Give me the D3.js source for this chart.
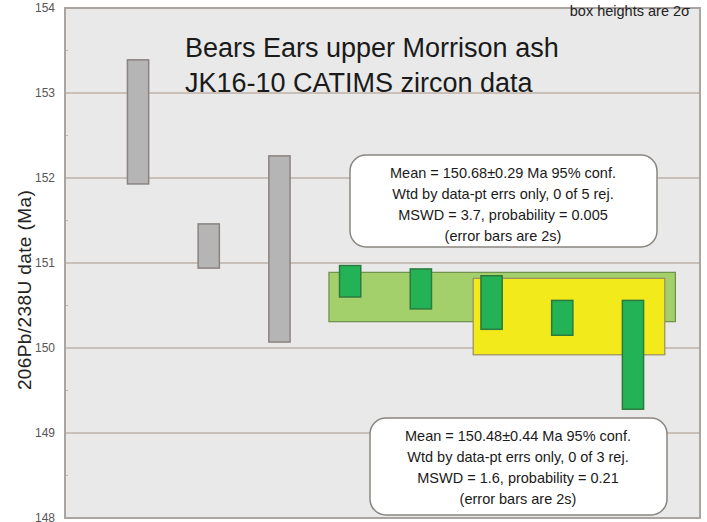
<!DOCTYPE html>
<html>
<head>
<meta charset="utf-8">
<script src="https://cdn.jsdelivr.net/npm/d3@7"></script>
<style>
  body { margin: 0; background: #fff; }
  svg { display: block; font-family: "Liberation Sans", Arial, sans-serif; }
</style>
</head>
<body>
<div id="chart"></div>
<script>
// grain boxes: position index, top and bottom of the 2 sigma box (Ma)
const greyGrains = [
  { pos: 1, hi: 153.39, lo: 151.93 },
  { pos: 2, hi: 151.46, lo: 150.94 },
  { pos: 3, hi: 152.26, lo: 150.07 }
]
const greenGrains = [
  { pos: 4, hi: 150.97, lo: 150.60 },
  { pos: 5, hi: 150.93, lo: 150.46 },
  { pos: 6, hi: 150.85, lo: 150.22 },
  { pos: 7, hi: 150.56, lo: 150.15 },
  { pos: 8, hi: 150.56, lo: 149.28 }
]
// weighted-mean bands
const meanBands = [
  { name: 'all5', x0: 3.70, x1: 8.60, hi: 150.89, lo: 150.31, fill: '#a3d06b', stroke: '#6f8f4c' },
  { name: 'last3', x0: 5.74, x1: 8.45, hi: 150.82, lo: 149.92, fill: '#f3ea1b', stroke: '#9a8c62' }
]
const yTicks = [148, 149, 150, 151, 152, 153, 154]
const yMinorTicks = [148.5, 149.5, 150.5, 151.5, 152.5, 153.5]
const titleLines = ['Bears Ears upper Morrison ash', 'JK16-10 CATIMS zircon data']
const note1 = ['Mean = 150.68\u00b10.29 Ma 95% conf.', 'Wtd by data-pt errs only, 0 of 5 rej.', 'MSWD = 3.7, probability = 0.005', '(error bars are 2s)']
const note2 = ['Mean = 150.48\u00b10.44 Ma 95% conf.', 'Wtd by data-pt errs only, 0 of 3 rej.', 'MSWD = 1.6, probability = 0.21', '(error bars are 2s)']

const width = 707, height = 522
const plot = { left: 65, right: 700, top: 8, bottom: 518 }
const barHalf = 0.15

const svg = d3.select('#chart').append('svg')
    .attr('width', width)
    .attr('height', height)

const x = d3.scaleLinear().domain([-0.033, 8.948]).range([plot.left, plot.right])
const y = d3.scaleLinear().domain([148, 154]).range([plot.bottom, plot.top])

// plot background
svg.append('rect')
    .attr('x', plot.left).attr('y', plot.top)
    .attr('width', plot.right - plot.left).attr('height', plot.bottom - plot.top)
    .style('fill', '#e8e9e8')

// gridlines
svg.selectAll('.grid')
    .data(yTicks.slice(1, -1))
    .enter()
    .append('line')
    .attr('class', 'grid')
    .attr('x1', plot.left).attr('x2', plot.right)
    .attr('y1', d => y(d)).attr('y2', d => y(d))
    .style('stroke', '#bcb0a8')
    .style('stroke-width', 1.5)

// left axis
const yAxis = d3.axisLeft(y).tickValues(yTicks).tickSize(0).tickPadding(10).tickFormat(d3.format('d'))
const ax = svg.append('g')
    .attr('transform', `translate(${plot.left},0)`)
    .call(yAxis)
ax.select('.domain').remove()
ax.selectAll('text')
    .style('font-size', '12px')
    .style('fill', '#555')
    .style('font-family', '"Liberation Sans", Arial, sans-serif')

svg.selectAll('.minor')
    .data(yMinorTicks)
    .enter()
    .append('line')
    .attr('class', 'minor')
    .attr('x1', plot.left).attr('x2', plot.left + 3)
    .attr('y1', d => y(d)).attr('y2', d => y(d))
    .style('stroke', '#bbb')

// frame
svg.append('rect')
    .attr('x', plot.left).attr('y', plot.top)
    .attr('width', plot.right - plot.left).attr('height', plot.bottom - plot.top)
    .style('fill', 'none')
    .style('stroke', '#aaa5a0')
    .style('stroke-width', 2)

// y label
svg.append('text')
    .attr('transform', `translate(31,290) rotate(-90)`)
    .attr('text-anchor', 'middle')
    .style('font-size', '19px')
    .style('letter-spacing', '0.4px')
    .style('fill', '#222')
    .text('206Pb/238U date (Ma)')

// mean bands
svg.selectAll('.band')
    .data(meanBands)
    .enter()
    .append('rect')
    .attr('class', 'band')
    .attr('x', d => x(d.x0))
    .attr('width', d => x(d.x1) - x(d.x0))
    .attr('y', d => y(d.hi))
    .attr('height', d => y(d.lo) - y(d.hi))
    .style('fill', d => d.fill)
    .style('stroke', d => d.stroke)
    .style('stroke-width', 1.2)

// grain boxes
function drawBoxes(data, cls, fill, stroke) {
    svg.selectAll('.' + cls)
        .data(data)
        .enter()
        .append('rect')
        .attr('class', cls)
        .attr('x', d => x(d.pos - barHalf))
        .attr('width', d => x(d.pos + barHalf) - x(d.pos - barHalf))
        .attr('y', d => y(d.hi))
        .attr('height', d => y(d.lo) - y(d.hi))
        .style('fill', fill)
        .style('stroke', stroke)
        .style('stroke-width', 1.5)
}
drawBoxes(greyGrains, 'grey-box', '#b5b5b5', '#8a8380')
drawBoxes(greenGrains, 'green-box', '#24b257', '#2c7a3c')

// title
svg.append('text')
    .attr('x', 185)
    .attr('y', 57)
    .style('font-size', '27px')
    .style('fill', '#1a1a1a')
    .selectAll('tspan')
    .data(titleLines)
    .enter()
    .append('tspan')
    .attr('x', 185)
    .attr('dy', (d, i) => i ? 35 : 0)
    .text(d => d)

svg.append('text')
    .attr('x', 690)
    .attr('y', 16)
    .attr('text-anchor', 'end')
    .style('font-size', '14.5px')
    .style('fill', '#222')
    .text('box heights are 2\u03c3')

// annotation boxes
function note(lines, bx, by, bw, bh, cx, firstY) {
    svg.append('rect')
        .attr('x', bx).attr('y', by)
        .attr('width', bw).attr('height', bh)
        .attr('rx', 16).attr('ry', 16)
        .style('fill', '#fff')
        .style('stroke', '#8a8580')
        .style('stroke-width', 1.5)
    svg.append('g')
        .selectAll('text')
        .data(lines)
        .enter()
        .append('text')
        .attr('x', cx)
        .attr('y', (d, i) => firstY + i * 21)
        .attr('text-anchor', 'middle')
        .style('font-size', '14.5px')
        .style('fill', '#1a1a1a')
        .text(d => d)
}
note(note1, 350, 155, 307, 92, 503, 178)
note(note2, 370, 418, 297, 97, 518, 441)
</script>
</body>
</html>
